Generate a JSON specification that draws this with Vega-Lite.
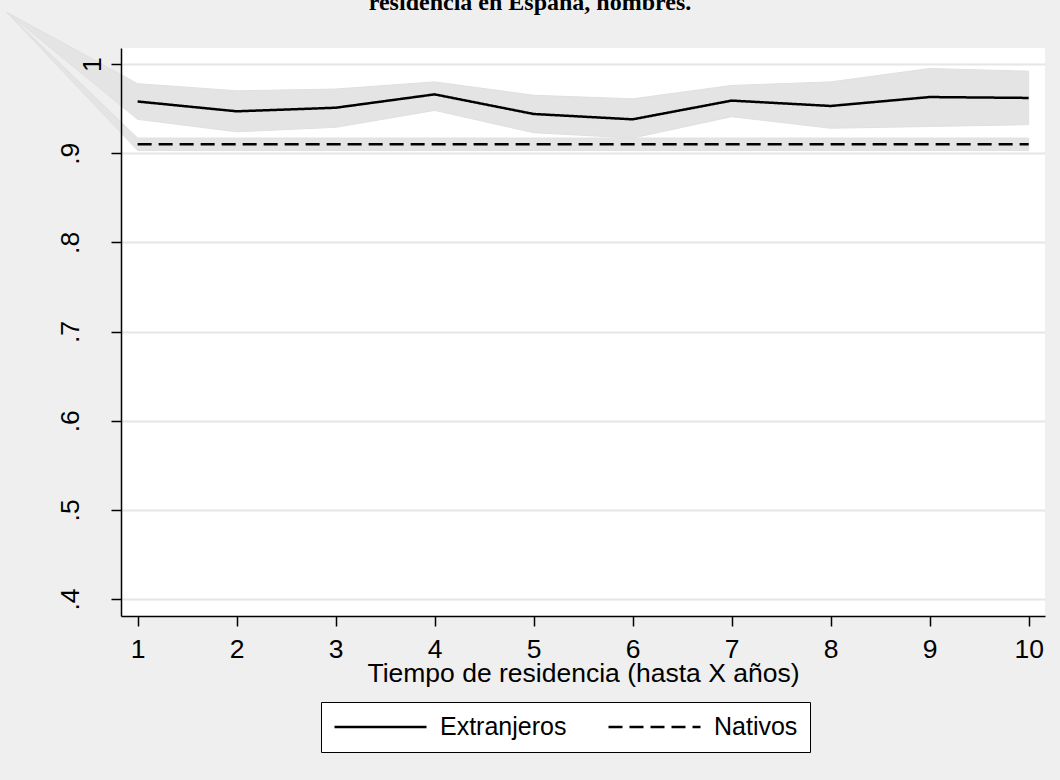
{
  "$schema": "https://vega.github.io/schema/vega-lite/v6.json",
  "width": 924,
  "height": 568,
  "autosize": {"type": "none"},
  "padding": {"left": 121, "top": 48, "right": 15, "bottom": 164},
  "background": "#efefef",
  "title": {
    "text": "residencia en España, hombres.",
    "font": "Liberation Serif",
    "fontSize": 24,
    "fontWeight": "bold",
    "color": "black",
    "anchor": "middle",
    "frame": "group",
    "dx": -53,
    "baseline": "alphabetic",
    "offset": -24
  },
  "config": {
    "view": {"stroke": null, "fill": "white"},
    "axis": {
      "labelFont": "Liberation Sans",
      "labelFontSize": 26.5,
      "labelColor": "black",
      "titleFont": "Liberation Sans",
      "titleFontSize": 26.5,
      "titleFontWeight": "normal",
      "titleColor": "black",
      "domainColor": "black",
      "domainWidth": 1.5,
      "tickColor": "black",
      "tickWidth": 1.5,
      "tickSize": 10
    }
  },
  "data": {
    "values": [
      {"t": -0.32, "grupo": "Extranjeros", "media": null, "lo": 1.058, "hi": 1.058},
      {"t": 1, "grupo": "Extranjeros", "media": 0.958, "lo": 0.938, "hi": 0.978},
      {"t": 2, "grupo": "Extranjeros", "media": 0.947, "lo": 0.924, "hi": 0.970},
      {"t": 3, "grupo": "Extranjeros", "media": 0.951, "lo": 0.929, "hi": 0.972},
      {"t": 4, "grupo": "Extranjeros", "media": 0.966, "lo": 0.948, "hi": 0.980},
      {"t": 5, "grupo": "Extranjeros", "media": 0.944, "lo": 0.923, "hi": 0.965},
      {"t": 6, "grupo": "Extranjeros", "media": 0.938, "lo": 0.917, "hi": 0.961},
      {"t": 7, "grupo": "Extranjeros", "media": 0.959, "lo": 0.941, "hi": 0.976},
      {"t": 8, "grupo": "Extranjeros", "media": 0.953, "lo": 0.928, "hi": 0.980},
      {"t": 9, "grupo": "Extranjeros", "media": 0.963, "lo": 0.930, "hi": 0.995},
      {"t": 10, "grupo": "Extranjeros", "media": 0.962, "lo": 0.932, "hi": 0.992},
      {"t": -0.32, "grupo": "Nativos", "media": null, "lo": 1.058, "hi": 1.058},
      {"t": 1, "grupo": "Nativos", "media": 0.910, "lo": 0.903, "hi": 0.917},
      {"t": 2, "grupo": "Nativos", "media": 0.910, "lo": 0.903, "hi": 0.917},
      {"t": 3, "grupo": "Nativos", "media": 0.910, "lo": 0.903, "hi": 0.917},
      {"t": 4, "grupo": "Nativos", "media": 0.910, "lo": 0.903, "hi": 0.917},
      {"t": 5, "grupo": "Nativos", "media": 0.910, "lo": 0.903, "hi": 0.917},
      {"t": 6, "grupo": "Nativos", "media": 0.910, "lo": 0.903, "hi": 0.917},
      {"t": 7, "grupo": "Nativos", "media": 0.910, "lo": 0.903, "hi": 0.917},
      {"t": 8, "grupo": "Nativos", "media": 0.910, "lo": 0.903, "hi": 0.917},
      {"t": 9, "grupo": "Nativos", "media": 0.910, "lo": 0.903, "hi": 0.917},
      {"t": 10, "grupo": "Nativos", "media": 0.910, "lo": 0.903, "hi": 0.917}
    ]
  },
  "encoding": {
    "x": {
      "field": "t",
      "type": "quantitative",
      "scale": {"domain": [0.832, 10.165], "nice": false, "zero": false},
      "axis": {
        "title": "Tiempo de residencia (hasta X años)",
        "values": [1, 2, 3, 4, 5, 6, 7, 8, 9, 10],
        "grid": false,
        "labelPadding": 10,
        "titlePadding": -2
      }
    }
  },
  "layer": [
    {
      "mark": {"type": "area", "fill": "#e4e4e4", "stroke": "#e0e0e0", "strokeWidth": 1, "opacity": 1},
      "encoding": {
        "y": {
          "field": "lo",
          "type": "quantitative",
          "scale": {"domain": [0.381, 1.018], "nice": false, "zero": false},
          "axis": {
            "title": null,
            "zindex": 1,
            "values": [0.4, 0.5, 0.6, 0.7, 0.8, 0.9, 1],
            "labelAngle": -90,
            "labelAlign": "center",
            "labelBaseline": "alphabetic",
            "labelPadding": {"condition": {"test": "datum.value == 1", "value": 11}, "value": 33},
            "labelExpr": "datum.value == 1 ? '1' : replace(format(datum.value, '.1f'), '0.', '.')",
            "grid": true,
            "gridColor": "#e6e6e6",
            "gridWidth": 2
          }
        },
        "y2": {"field": "hi"},
        "detail": {"field": "grupo"}
      }
    },
    {
      "transform": [{"filter": "datum.media != null"}],
      "mark": {"type": "line", "color": "black", "strokeWidth": 2.5},
      "encoding": {
        "y": {"field": "media", "type": "quantitative"},
        "strokeDash": {
          "field": "grupo",
          "type": "nominal",
          "scale": {"domain": ["Extranjeros", "Nativos"], "range": [[1, 0], [14, 7]]},
          "legend": {
            "orient": "none",
            "legendX": 200,
            "legendY": 654,
            "direction": "horizontal",
            "title": null,
            "symbolType": "M-1,0H7",
            "symbolSize": 529,
            "symbolStrokeWidth": 2.5,
            "symbolStrokeColor": "black",
            "labelFont": "Liberation Sans",
            "labelFontSize": 25,
            "labelColor": "black",
            "labelOffset": 81,
            "labelLimit": 400,
            "columnPadding": 36,
            "padding": 12,
            "strokeColor": "black",
            "fillColor": "white"
          }
        }
      }
    }
  ]
}
